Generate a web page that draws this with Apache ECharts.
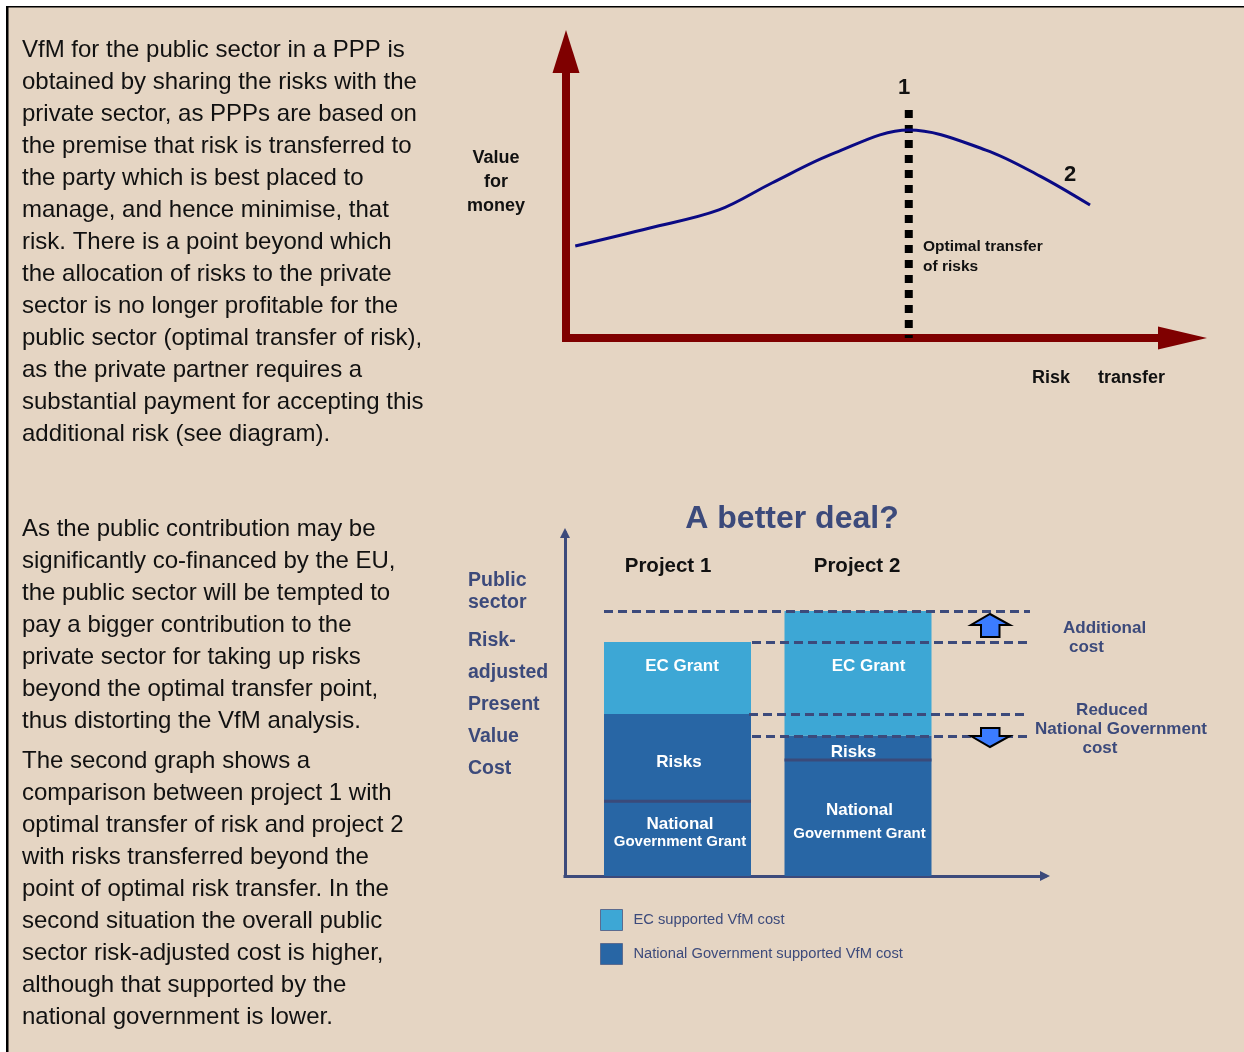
<!DOCTYPE html>
<html>
<head>
<meta charset="utf-8">
<script src="https://cdn.jsdelivr.net/npm/echarts@6/dist/echarts.min.js"></script>
<style>
html,body{margin:0;padding:0;background:#ffffff;}
#c{width:1244px;height:1052px;}
</style>
</head>
<body>
<div id="c"></div>
<script>
// ---------- data ----------
// Top diagram: value for money vs risk transfer (0-100 scales)
const curveRisk  = [1.5, 13.6, 24.8, 33.4, 43.6, 55.6, 68.1, 76.9, 85.0];
const curveValue = [32.1, 38.4, 44.7, 54.1, 64.6, 72.6, 65.6, 56.5, 46.4];
const optimalRisk = 55.6;      // optimal transfer of risks (point 1)
const optimalMarkerTop = 79.6; // top of the dotted marker
// Bottom diagram: risk-adjusted present value cost (Project 1 = 100)
const projects      = ['Project 1', 'Project 2'];
const nationalGrant = [32.0, 49.6];
const risks         = [37.2, 10.3];
const ecGrant       = [30.8, 53.4];
const legendNames   = ['EC supported VfM cost', 'National Government supported VfM cost'];

// ---------- derived ----------
const total = projects.map((p, i) => nationalGrant[i] + risks[i] + ecGrant[i]);
const natPlusRisk = projects.map((p, i) => nationalGrant[i] + risks[i]);

const FONT = "'Liberation Sans', Arial, Helvetica, sans-serif";
const SLATE = '#3C4A7B';
const DARKBLUE = '#2866A5';
const LIGHTBLUE = '#3DA7D5';
const BG = '#E5D5C3';

function T(text, x, y, o) {
  o = o || {};
  return {
    type: 'text', x: x, y: y, z: 50, silent: true,
    style: {
      text: text,
      fill: o.color || '#111111',
      fontSize: o.size || 18,
      fontWeight: o.weight || 'normal',
      fontFamily: FONT,
      align: o.align || 'left',
      verticalAlign: o.va || 'middle',
      lineHeight: o.lh || undefined
    }
  };
}

const para1 = [
  'VfM for the public sector in a PPP is',
  'obtained by sharing the risks with the',
  'private sector, as PPPs are based on',
  'the premise that risk is transferred to',
  'the party which is best placed to',
  'manage, and hence minimise, that',
  'risk. There is a point beyond which',
  'the allocation of risks to the private',
  'sector is no longer profitable for the',
  'public sector (optimal transfer of risk),',
  'as the private partner requires a',
  'substantial payment for accepting this',
  'additional risk (see diagram).'
].join('\n');
const para2 = [
  'As the public contribution may be',
  'significantly co-financed by the EU,',
  'the public sector will be tempted to',
  'pay a bigger contribution to the',
  'private sector for taking up risks',
  'beyond the optimal transfer point,',
  'thus distorting the VfM analysis.'
].join('\n');
const para3 = [
  'The second graph shows a',
  'comparison between project 1 with',
  'optimal transfer of risk and project 2',
  'with risks transferred beyond the',
  'point of optimal risk transfer. In the',
  'second situation the overall public',
  'sector risk-adjusted cost is higher,',
  'although that supported by the',
  'national government is lower.'
].join('\n');

const graphics = [
  // page frame
  {type: 'rect', shape: {x: 0, y: 0, width: 1244, height: 6}, style: {fill: '#ffffff'}, silent: true},
  {type: 'rect', shape: {x: 0, y: 0, width: 6, height: 1052}, style: {fill: '#ffffff'}, silent: true},
  {type: 'rect', shape: {x: 6, y: 6, width: 1238, height: 1.5}, style: {fill: '#000000'}, silent: true},
  {type: 'rect', shape: {x: 6, y: 6, width: 2.5, height: 1046}, style: {fill: '#000000'}, silent: true},
  // paragraphs
  T(para1, 22, 34, {size: 24, lh: 32, va: 'top'}),
  T(para2, 22, 513, {size: 24, lh: 32, va: 'top'}),
  T(para3, 22, 745, {size: 24, lh: 32, va: 'top'}),
  // top diagram texts
  T('Value\nfor\nmoney', 496, 146, {size: 18, weight: 'bold', lh: 24, va: 'top', align: 'center'}),
  T('1', 904, 88, {size: 22, weight: 'bold', align: 'center'}),
  T('2', 1070, 175, {size: 22, weight: 'bold', align: 'center'}),
  T('Optimal transfer\nof risks', 923, 237, {size: 15.5, weight: 'bold', lh: 20, va: 'top'}),
  T('Risk', 1032, 378, {size: 18, weight: 'bold'}),
  T('transfer', 1098, 378, {size: 18, weight: 'bold'}),
  // bottom diagram texts
  T('A better deal?', 792, 519, {size: 32, weight: 'bold', align: 'center', color: SLATE}),
  T('Project 1', 668, 566, {size: 20.5, weight: 'bold', align: 'center'}),
  T('Project 2', 857, 566, {size: 20.5, weight: 'bold', align: 'center'}),
  T('Public\nsector', 468, 570, {size: 19.5, weight: 'bold', lh: 22, va: 'top', color: SLATE}),
  T('Risk-\nadjusted\nPresent\nValue\nCost', 468, 625, {size: 19.5, weight: 'bold', lh: 32, va: 'top', color: SLATE}),
  T('Additional', 1063, 628, {size: 17, weight: 'bold', color: SLATE}),
  T('cost', 1069, 647, {size: 17, weight: 'bold', color: SLATE}),
  T('Reduced', 1112, 710, {size: 17, weight: 'bold', align: 'center', color: SLATE}),
  T('National Government', 1121, 729, {size: 17, weight: 'bold', align: 'center', color: SLATE}),
  T('cost', 1100, 748, {size: 17, weight: 'bold', align: 'center', color: SLATE}),
  // arrows
  {type: 'polygon', z: 60, silent: true,
   shape: {points: [[990,614],[1010,625],[999.5,625],[999.5,637],[981,637],[981,625],[971,625]]},
   style: {fill: '#3B7CFF', stroke: '#000000', lineWidth: 2}},
  {type: 'polygon', z: 60, silent: true,
   shape: {points: [[981,728],[999.5,728],[999.5,736],[1010,736],[990,747],[971,736],[981,736]]},
   style: {fill: '#3B7CFF', stroke: '#000000', lineWidth: 2}}
];

function arrowAxis(gridIndex, color, width, size, extra) {
  return Object.assign({
    gridIndex: gridIndex, type: 'value', min: 0, max: 100,
    axisLine: {show: true, onZero: false, symbol: ['none', 'triangle'], symbolSize: size,
               lineStyle: {color: color, width: width, cap: 'square'}},
    axisTick: {show: false}, axisLabel: {show: false}, splitLine: {show: false}
  }, extra || {});
}

const barLabelBase = {show: true, color: '#ffffff', fontWeight: 'bold', fontSize: 17,
                      fontFamily: FONT, align: 'center', verticalAlign: 'middle'};
const ecLabelPos   = [[78, 24], [84, 55]];
const riskLabelPos = [[75, 48], [69, 16]];
const natLabelPos  = [[76, 32], [75, 62]];
const natLineH     = [18, 24];

function natRich(lh) {
  return {
    a: {color: '#fff', fontWeight: 'bold', fontSize: 17, fontFamily: FONT, lineHeight: lh},
    b: {color: '#fff', fontWeight: 'bold', fontSize: 15, fontFamily: FONT, lineHeight: lh}
  };
}

const dashStyle = {color: SLATE, width: 3, type: [9, 5]};

const option = {
  backgroundColor: BG,
  animation: false,
  textStyle: {fontFamily: FONT},
  graphic: graphics,
  legend: {
    show: true, orient: 'vertical', left: 595, top: 904, padding: 5,
    itemWidth: 22, itemHeight: 21, itemGap: 12, icon: 'rect', selectedMode: false,
    data: legendNames,
    itemStyle: {borderColor: '#5B6B8F', borderWidth: 1},
    textStyle: {color: SLATE, fontSize: 14.7, fontFamily: FONT, padding: [0, 0, 0, 6]}
  },
  grid: [
    {left: 566, top: 51.5, width: 616.5, height: 286.5, outerBoundsMode: 'none'},
    {left: 565, top: 533, width: 480, height: 343, outerBoundsMode: 'none'},
    {left: 587.25, top: 533, width: 361, height: 343, outerBoundsMode: 'none'}
  ],
  xAxis: [
    arrowAxis(0, '#7F0000', 8, [23, 49]),
    arrowAxis(1, SLATE, 3, [10, 10]),
    {gridIndex: 2, type: 'category', data: projects, show: false}
  ],
  yAxis: [
    arrowAxis(0, '#7F0000', 8, [27, 43]),
    arrowAxis(1, SLATE, 3, [10, 10]),
    {gridIndex: 2, type: 'value', min: 0, max: 146.6, show: false}
  ],
  series: [
    {
      name: 'Value for money', type: 'line', xAxisIndex: 0, yAxisIndex: 0, z: 4,
      data: curveRisk.map((x, i) => [x, curveValue[i]]),
      smooth: 0.35, symbol: 'none', silent: true,
      lineStyle: {color: '#0A0A84', width: 3}
    },
    {
      name: 'Optimal transfer', type: 'line', xAxisIndex: 0, yAxisIndex: 0, z: 3,
      data: [[optimalRisk, optimalMarkerTop], [optimalRisk, 0]],
      symbol: 'none', silent: true,
      lineStyle: {color: '#000000', width: 8, type: [8, 7], cap: 'butt'}
    },
    {
      name: legendNames[1], type: 'bar', stack: 'vfm', xAxisIndex: 2, yAxisIndex: 2,
      barWidth: 147, itemStyle: {color: DARKBLUE},
      label: Object.assign({}, barLabelBase, {formatter: '{a|National}\n{b|Government Grant}'}),
      data: nationalGrant.map((v, i) => ({value: v, label: {position: natLabelPos[i], rich: natRich(natLineH[i])}}))
    },
    {
      name: 'Risks', type: 'bar', stack: 'vfm', xAxisIndex: 2, yAxisIndex: 2,
      barWidth: 147, itemStyle: {color: DARKBLUE},
      label: Object.assign({}, barLabelBase, {formatter: 'Risks'}),
      data: risks.map((v, i) => ({value: v, label: {position: riskLabelPos[i]}}))
    },
    {
      name: legendNames[0], type: 'bar', stack: 'vfm', xAxisIndex: 2, yAxisIndex: 2,
      barWidth: 147, itemStyle: {color: LIGHTBLUE},
      label: Object.assign({}, barLabelBase, {formatter: 'EC Grant'}),
      data: ecGrant.map((v, i) => ({value: v, label: {position: ecLabelPos[i]}}))
    },
    {
      name: 'separators', type: 'custom', xAxisIndex: 2, yAxisIndex: 2, z: 5, silent: true,
      data: nationalGrant.map((v, i) => [i, v]),
      renderItem: function (params, api) {
        const p = api.coord([api.value(0), api.value(1)]);
        return {type: 'rect', shape: {x: p[0] - 73.5, y: p[1] - 1.5, width: 147, height: 3},
                style: {fill: '#3A4A7A'}};
      },
      markLine: {
        silent: true, symbol: ['none', 'none'], label: {show: false}, animation: false,
        lineStyle: dashStyle,
        data: [
          [{x: 604, yAxis: total[1]}, {x: 1030, yAxis: total[1]}],
          [{x: 752, yAxis: total[0]}, {x: 1030, yAxis: total[0]}],
          [{x: 749, yAxis: natPlusRisk[0]}, {x: 1025, yAxis: natPlusRisk[0]}],
          [{x: 752, yAxis: natPlusRisk[1]}, {x: 1028, yAxis: natPlusRisk[1]}]
        ]
      }
    }
  ]
};

const chart = echarts.init(document.getElementById('c'), null, {renderer: 'canvas'});
chart.setOption(option);
</script>
</body>
</html>
